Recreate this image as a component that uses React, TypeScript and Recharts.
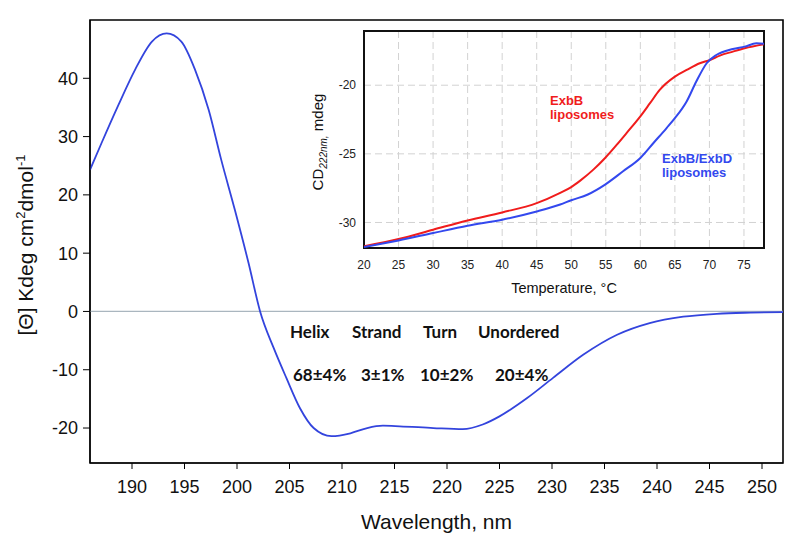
import { LineChart, Line, XAxis, YAxis, CartesianGrid, ReferenceLine, ReferenceArea } from 'recharts'

// main CD spectrum
const wavelength = [186.0, 187.1, 188.7, 190.3, 191.9, 193.3, 194.7, 196.0, 197.3, 198.5, 199.8, 201.1, 202.2, 203.5, 204.7, 206.0, 207.3, 209.0, 210.8, 212.4, 213.9, 215.5, 218.7, 221.5, 223.4, 225.0, 227.6, 230.1, 233.0, 236.2, 239.3, 242.5, 245.7, 248.9, 252.0]
const ellipticity = [24.3, 28.9, 35.4, 41.5, 46.3, 47.7, 46.3, 41.5, 34.6, 26.0, 17.4, 8.3, 0, -6.3, -11.4, -16.6, -20.0, -21.4, -20.9, -20.0, -19.6, -19.7, -20.0, -20.2, -19.4, -18.0, -14.9, -11.4, -7.4, -4.0, -2.0, -0.9, -0.4, -0.2, -0.1]
const wlTicks = [190, 195, 200, 205, 210, 215, 220, 225, 230, 235, 240, 245, 250]
const thetaTicks = [-20, -10, 0, 10, 20, 30, 40]

// inset: thermal melt at 222 nm
const exbBTemp = [20, 25, 30, 35, 40, 45, 48.4, 50, 51.3, 53.2, 54.9, 56.6, 58.0, 60, 61.4, 62.8, 65, 66.7, 68.6, 70.1, 71.5, 73.4, 75.1, 77.9]
const exbBCd = [-31.74, -31.21, -30.53, -29.85, -29.27, -28.59, -27.84, -27.42, -26.95, -26.15, -25.30, -24.33, -23.49, -22.27, -21.31, -20.34, -19.37, -18.89, -18.40, -18.16, -17.84, -17.55, -17.31, -17.02]
const exbBDTemp = [20, 25, 30, 35, 40, 45, 48.4, 50, 52.4, 54.9, 57.5, 60, 61.9, 63.8, 65, 66.7, 68.1, 69.6, 71.0, 73.4, 75.1, 76.8, 77.9]
const exbBDCd = [-31.78, -31.31, -30.77, -30.24, -29.80, -29.20, -28.69, -28.38, -27.96, -27.24, -26.27, -25.30, -24.21, -23.12, -22.40, -21.18, -19.73, -18.40, -17.80, -17.36, -17.19, -16.95, -16.97]
const tempTicks = [20, 25, 30, 35, 40, 45, 50, 55, 60, 65, 70, 75]
const cdTicks = [-30, -25, -20]

const structureNames = ['Helix', 'Strand', 'Turn', 'Unordered']
const structureValues = ['68±4%', '3±1%', '10±2%', '20±4%']

const spectrum = wavelength.map((nm, i) => ({ nm, theta: ellipticity[i] }))
const exbB = exbBTemp.map((t, i) => ({ t, cd: exbBCd[i] }))
const exbBD = exbBDTemp.map((t, i) => ({ t, cd: exbBDCd[i] }))

const ARIAL = '"Liberation Sans", Arial, sans-serif'
const nameX = [290, 352, 423, 478]
const valueX = [293, 361, 420, 495]

export default function App() {
  return (
    <div style={{ position: 'absolute', left: 0, top: 0, width: 800, height: 546, background: '#fff', fontFamily: ARIAL }}>
      <LineChart width={800} height={546} data={spectrum} margin={{ top: 20, right: 17, bottom: 0, left: 0 }}>
        <XAxis
          dataKey="nm"
          type="number"
          domain={[186, 252]}
          ticks={wlTicks}
          allowDataOverflow
          height={83}
          tickSize={6}
          tickMargin={11}
          stroke="#000"
          tick={{ fontSize: 18, fill: '#111', fontFamily: ARIAL }}
          label={{ value: 'Wavelength, nm', position: 'insideBottom', offset: 17, fontSize: 21, fill: '#111', fontFamily: ARIAL }}
        />
        <YAxis
          type="number"
          domain={[-26, 50]}
          ticks={thetaTicks}
          allowDataOverflow
          width={90}
          tickSize={7}
          tickMargin={5}
          stroke="#000"
          tick={{ fontSize: 18, fill: '#111', fontFamily: ARIAL }}
        />
        <ReferenceLine y={0} stroke="#aab6bf" strokeWidth={1.2} />
        <ReferenceArea x1={186} x2={252} y1={-26} y2={50} fill="none" stroke="#000" strokeWidth={1.6} />
        <Line dataKey="theta" type="monotone" stroke="#3344dd" strokeWidth={1.8} dot={false} isAnimationActive={false} />
      </LineChart>

      {/* inset */}
      <div style={{ position: 'absolute', left: 296, top: 22, width: 485, height: 283, background: '#fff' }}>
        <LineChart width={485} height={283} margin={{ top: 9, right: 17, bottom: 0, left: 0 }}>
          <CartesianGrid stroke="#d2d2d2" strokeDasharray="7 4" />
          <XAxis
            dataKey="t"
            type="number"
            domain={[20, 77.9]}
            ticks={tempTicks}
            allowDataOverflow
            height={57}
            tickSize={0}
            tickMargin={12}
            axisLine={false}
            tick={{ fontSize: 12, fill: '#222', fontFamily: ARIAL }}
            label={{ value: 'Temperature, °C', position: 'insideBottom', offset: 12, fontSize: 14.5, fill: '#111', fontFamily: ARIAL }}
          />
          <YAxis
            type="number"
            domain={[-31.86, -16.05]}
            ticks={cdTicks}
            allowDataOverflow
            width={68}
            tickSize={0}
            tickMargin={8}
            axisLine={false}
            tick={{ fontSize: 12, fill: '#222', fontFamily: ARIAL }}
          />
          <ReferenceArea x1={20} x2={77.9} y1={-31.86} y2={-16.05} fill="none" stroke="#111" strokeWidth={2} />
          <Line data={exbB} dataKey="cd" type="monotone" stroke="#f01c1c" strokeWidth={2} dot={false} isAnimationActive={false} />
          <Line data={exbBD} dataKey="cd" type="monotone" stroke="#3348ee" strokeWidth={2} dot={false} isAnimationActive={false} />
        </LineChart>
      </div>

      {/* text annotations */}
      <svg width={800} height={546} style={{ position: 'absolute', left: 0, top: 0, pointerEvents: 'none' }}>
        <text transform="rotate(-90 33 245)" x={33} y={245} textAnchor="middle" fontSize={21} fill="#111" fontFamily={ARIAL}>
          [Θ] Kdeg cm<tspan dy={-8} fontSize={13}>2</tspan><tspan dy={8}>dmol</tspan><tspan dy={-8} fontSize={13}>-1</tspan>
        </text>
        <text transform="rotate(-90 323 142)" x={323} y={142} textAnchor="middle" fontSize={15} fill="#111" fontFamily={ARIAL}>
          CD<tspan dy={4} fontSize={10} fontStyle="italic">222nm,</tspan><tspan dy={-4}> mdeg</tspan>
        </text>
        <g fontFamily={ARIAL} fontWeight="bold" fontSize={13}>
          <text x={550} y={105} fill="#f01c1c">ExbB</text>
          <text x={550} y={119} fill="#f01c1c">liposomes</text>
          <text x={662} y={163} fill="#3348ee">ExbB/ExbD</text>
          <text x={662} y={177} fill="#3348ee">liposomes</text>
        </g>
        <g fontFamily="Lato, sans-serif" fontWeight="bold" fontSize={17} fill="#111">
          {structureNames.map((s, i) => (
            <text key={s} x={nameX[i]} y={338}>{s}</text>
          ))}
          {structureValues.map((s, i) => (
            <text key={s} x={valueX[i]} y={381}>{s}</text>
          ))}
        </g>
      </svg>
    </div>
  )
}
